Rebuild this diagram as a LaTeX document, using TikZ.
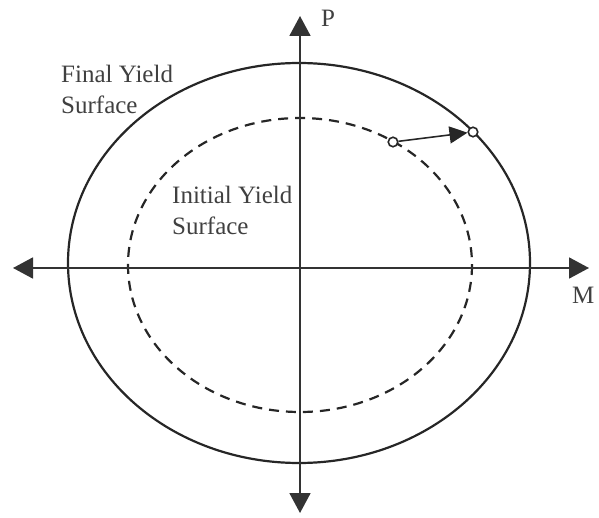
\documentclass[tikz,border=0pt]{standalone}
\usepackage{fontspec}
\setmainfont{Liberation Serif}
\usetikzlibrary{arrows.meta}
\begin{document}
\begin{tikzpicture}[x=1pt,y=-1pt,
  axis/.style={line width=1.8pt,draw=black!80,-{Triangle[length=20pt,width=21pt]}},
  surf/.style={line width=2.2pt,draw=black!85},
  lbl/.style={font=\fontsize{25}{31}\selectfont,align=left,text=black!75,inner sep=0pt},
  dot/.style={circle,draw=black!85,line width=1.6pt,fill=white,minimum size=9.5pt,inner sep=0pt}]
\useasboundingbox (0,0) rectangle (599,518);
\coordinate (O) at (300,268);
\coordinate (L) at (13,268);
\coordinate (R) at (589,268);
\coordinate (T) at (300,16);
\coordinate (B) at (300,513);
\draw[surf] (299,263) ellipse [x radius=231, y radius=200];
\draw[surf,dashed,dash pattern=on 10pt off 7pt] (300,265) ellipse [x radius=172, y radius=147];
\draw[axis] (O) -- (L);
\draw[axis] (O) -- (R);
\draw[axis] (O) -- (T);
\draw[axis] (O) -- (B);
\node[dot] (a) at (393,142) {};
\node[dot] (b) at (473,132) {};
\draw[line width=1.6pt,draw=black!85,-{Triangle[length=18pt,width=17pt]}] (a) -- (b);
\node[lbl,anchor=north west] (fys) at (61,65) {Final Yield\\Surface};
\node[lbl,anchor=north west] (iys) at (172,186) {Initial Yield\\Surface};
\node[lbl,anchor=base west] (p) at (321,27) {P};
\node[lbl,anchor=base west] (m) at (572,303) {M};
\end{tikzpicture}
\end{document}
